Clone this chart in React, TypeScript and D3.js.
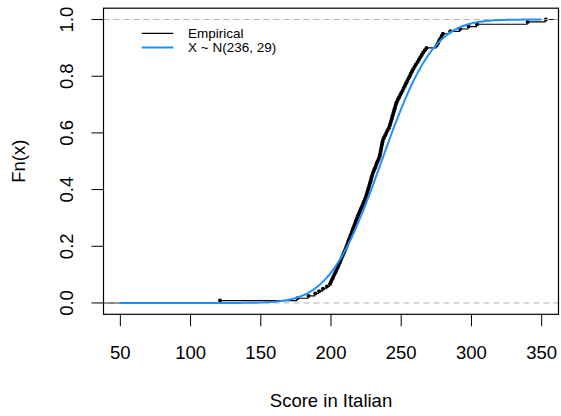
import React, { useEffect, useRef } from "react";
import * as d3 from "d3";

// sorted scores
const scores = [
  121, 176, 184, 188.8, 191.6, 194.3, 197.1, 199.3, 200, 200.8, 201.6, 202.4,
  203.2, 203.9, 204.8, 205.4, 206.2, 206.9, 207.6, 208.3, 209, 209.7, 210.4,
  211.1, 211.7, 212.3, 212.9, 213.6, 214.2, 214.8, 215.4, 216, 216.7, 217.3,
  217.9, 218.6, 219.3, 220, 220.7, 221.4, 222.1, 222.8, 223.5, 224.2, 224.9,
  225.4, 225.9, 226.4, 226.9, 227.4, 227.9, 228.4, 228.8, 229.3, 229.8, 230.5,
  231.2, 231.9, 232.5, 233.2, 233.9, 234.6, 234.9, 235.3, 235.6, 235.9, 236.3,
  236.6, 237, 237.7, 238.6, 239.4, 240.2, 241.1, 241.8, 242.3, 242.8, 243.3,
  243.7, 244.2, 244.7, 245.2, 245.7, 246.2, 246.7, 247.6, 248.4, 249.3, 250.1,
  251, 251.8, 252.7, 253.5, 254.3, 255.2, 256, 256.8, 257.7, 258.5, 259.5,
  260.5, 261.6, 262.6, 263.6, 264.6, 265.6, 266.8, 268, 275.2, 276.1, 277,
  277.9, 278.8, 279.7, 285, 292, 298, 304, 340, 353,
];

const MEAN = 236;
const SD = 29;
const xTicks = [50, 100, 150, 200, 250, 300, 350];
const yTicks = [0, 0.2, 0.4, 0.6, 0.8, 1];
const legendLabels = ["Empirical", "X ~ N(236, 29)"];

const FONT = "'Liberation Sans', Arial, Helvetica, sans-serif";
const BLUE = "#1e90ff";
const AXIS_FS = "18.5px";

function pnorm(x: number) {
  const z = (x - MEAN) / (SD * Math.SQRT2);
  const t = 1 / (1 + 0.3275911 * Math.abs(z));
  const y =
    1 -
    ((((1.061405429 * t - 1.453152027) * t + 1.421413741) * t - 0.284496736) * t +
      0.254829592) *
      t *
      Math.exp(-z * z);
  return 0.5 * (1 + (z >= 0 ? y : -y));
}

export default function App() {
  const ref = useRef<SVGSVGElement>(null);

  useEffect(() => {
    document.body.style.margin = "0";
    const svg = d3.select(ref.current);
    svg.selectAll("*").remove();

    const width = 561;
    const height = 416;
    const box = { left: 103.5, right: 558.5, top: 8.2, bottom: 314.3 };

    const x = d3.scaleLinear().domain([38, 362]).range([box.left, box.right]);
    const y = d3.scaleLinear().domain([-0.04, 1.04]).range([box.bottom, box.top]);

    svg.attr("width", width).attr("height", height);

    svg.append("defs").append("clipPath").attr("id", "plotclip")
      .append("rect")
      .attr("x", box.left).attr("y", box.top)
      .attr("width", box.right - box.left).attr("height", box.bottom - box.top);

    const plot = svg.append("g").attr("clip-path", "url(#plotclip)");

    // ecdf horizontals, extended past both ends of the box
    const n = scores.length;
    const ext = [20, ...scores, 400];
    const segs: [number, number, number][] = [];
    for (let i = 0; i < ext.length - 1; i++) {
      segs.push([ext[i], ext[i + 1], i / n]);
    }
    plot.append("g")
      .selectAll("line")
      .data(segs)
      .enter()
      .append("line")
      .attr("x1", d => x(d[0]))
      .attr("x2", d => x(d[1]))
      .attr("y1", d => y(d[2]))
      .attr("y2", d => y(d[2]))
      .attr("stroke", "#000")
      .attr("stroke-width", 1.1);

    plot.append("g")
      .selectAll("circle")
      .data(scores)
      .enter()
      .append("circle")
      .attr("cx", d => x(d))
      .attr("cy", (d, i) => y((i + 1) / n))
      .attr("r", 2)
      .attr("fill", "#000");

    // reference lines at 0 and 1
    plot.append("g")
      .selectAll("line")
      .data([0, 1])
      .enter()
      .append("line")
      .attr("x1", box.left)
      .attr("x2", box.right)
      .attr("y1", d => y(d))
      .attr("y2", d => y(d))
      .attr("stroke", "#b3b3b3")
      .attr("stroke-width", 1)
      .attr("stroke-dasharray", "6,4");

    // normal cdf
    const grid = d3.range(50, 350.01, 1);
    const line = d3.line<number>().x(d => x(d)).y(d => y(pnorm(d)));
    plot.append("path")
      .datum(grid)
      .attr("d", line)
      .attr("fill", "none")
      .attr("stroke", BLUE)
      .attr("stroke-width", 2);

    // box
    svg.append("rect")
      .attr("x", box.left).attr("y", box.top)
      .attr("width", box.right - box.left).attr("height", box.bottom - box.top)
      .attr("fill", "none").attr("stroke", "#000").attr("stroke-width", 1.2);

    // X axis
    const gx = svg.append("g");
    gx.selectAll("line")
      .data(xTicks)
      .enter()
      .append("line")
      .attr("x1", d => x(d)).attr("x2", d => x(d))
      .attr("y1", box.bottom).attr("y2", box.bottom + 12)
      .attr("stroke", "#000");
    gx.selectAll("text")
      .data(xTicks)
      .enter()
      .append("text")
      .attr("x", d => x(d))
      .attr("y", 359)
      .attr("text-anchor", "middle")
      .style("font-family", FONT)
      .style("font-size", AXIS_FS)
      .text(d => String(d));

    // Y axis
    const gy = svg.append("g");
    gy.selectAll("line")
      .data(yTicks)
      .enter()
      .append("line")
      .attr("x1", box.left - 12).attr("x2", box.left)
      .attr("y1", d => y(d)).attr("y2", d => y(d))
      .attr("stroke", "#000");
    gy.selectAll("text")
      .data(yTicks)
      .enter()
      .append("text")
      .attr("transform", d => `translate(73,${y(d)}) rotate(-90)`)
      .attr("text-anchor", "middle")
      .style("font-family", FONT)
      .style("font-size", AXIS_FS)
      .text(d => d.toFixed(1));

    // axis titles
    svg.append("text")
      .attr("x", (box.left + box.right) / 2)
      .attr("y", 407)
      .attr("text-anchor", "middle")
      .style("font-family", FONT)
      .style("font-size", AXIS_FS)
      .text("Score in Italian");

    svg.append("text")
      .attr("transform", `translate(25,${(box.top + box.bottom) / 2}) rotate(-90)`)
      .attr("text-anchor", "middle")
      .style("font-family", FONT)
      .style("font-size", AXIS_FS)
      .text("Fn(x)");

    // legend (no frame)
    const lg = svg.append("g");
    const colors = ["#000", BLUE];
    legendLabels.forEach((lab, i) => {
      const ly = 33.3 + i * 14.2;
      lg.append("line")
        .attr("x1", 141.7).attr("x2", 173.3)
        .attr("y1", ly).attr("y2", ly)
        .attr("stroke", colors[i])
        .attr("stroke-width", i === 0 ? 1.2 : 2);
      lg.append("text")
        .attr("x", 188)
        .attr("y", ly + 4.8)
        .style("font-family", FONT)
        .style("font-size", "13.5px")
        .text(lab);
    });
  }, []);

  return <svg ref={ref} style={{ display: "block" }}></svg>;
}
